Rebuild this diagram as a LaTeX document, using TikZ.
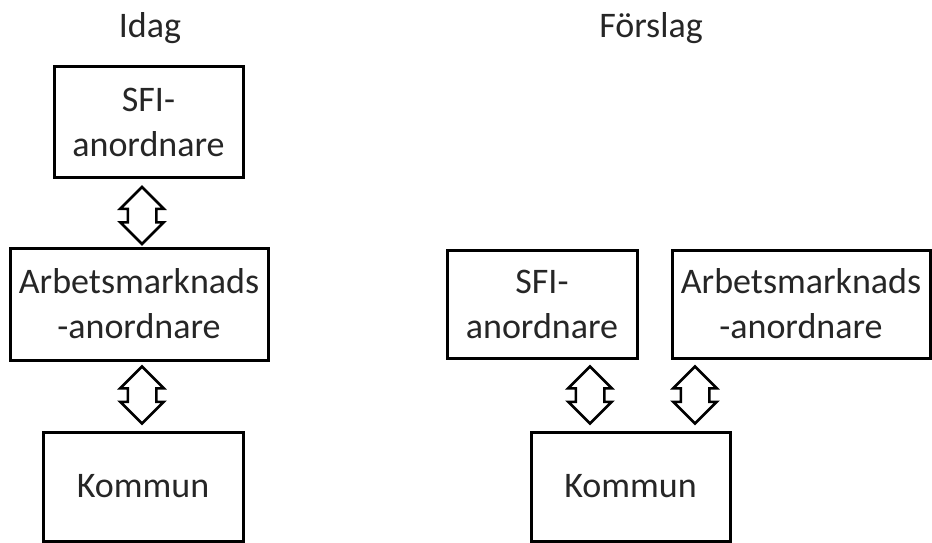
\documentclass[tikz,border=0pt]{standalone}
\usepackage{fontspec}
\setmainfont{Carlito}
\usetikzlibrary{shapes,arrows,positioning,calc}
\definecolor{textgray}{RGB}{38,38,38}

\begin{document}
\begin{tikzpicture}[x=1pt, y=-1pt,
    box/.style={draw, line width=3pt, inner sep=0pt, align=center, text=textgray,
      font=\fontsize{36}{45}\selectfont},
    title/.style={text=textgray, font=\fontsize{36}{45}\selectfont},
    dblarrow/.style={draw, line width=2.5pt, shape=double arrow, rotate=90,
      minimum height=57pt, inner xsep=0pt, inner ysep=13pt,
      double arrow head extend=7.5pt, double arrow tip angle=90}]
  \useasboundingbox (0,0) rectangle (932,543);

  % Idag (left)
  \node[title] (idag) at (150,28) {Idag};
  \node[box, minimum width=189pt, minimum height=110pt] (sfiL) at (148.5,122) {SFI-\\anordnare};
  \node[box, minimum width=258pt, minimum height=112pt] (arbL) at (139,304) {Arbetsmarknads\\-anordnare};
  \node[box, minimum width=200pt, minimum height=109pt] (komL) at (143,486.5) {Kommun};
  \node[dblarrow] (pilL1) at (142,215.5) {};
  \node[dblarrow] (pilL2) at (142,395) {};

  % Förslag (right)
  \node[title] (forslag) at (651,28) {Förslag};
  \node[box, minimum width=190pt, minimum height=108pt] (sfiR) at (542,304) {SFI-\\anordnare};
  \node[box, minimum width=258pt, minimum height=108pt] (arbR) at (801,304) {Arbetsmarknads\\-anordnare};
  \node[box, minimum width=199pt, minimum height=109pt] (komR) at (630.5,486.5) {Kommun};
  \node[dblarrow] (pilR1) at (590,395) {};
  \node[dblarrow] (pilR2) at (695,395) {};
\end{tikzpicture}
\end{document}
